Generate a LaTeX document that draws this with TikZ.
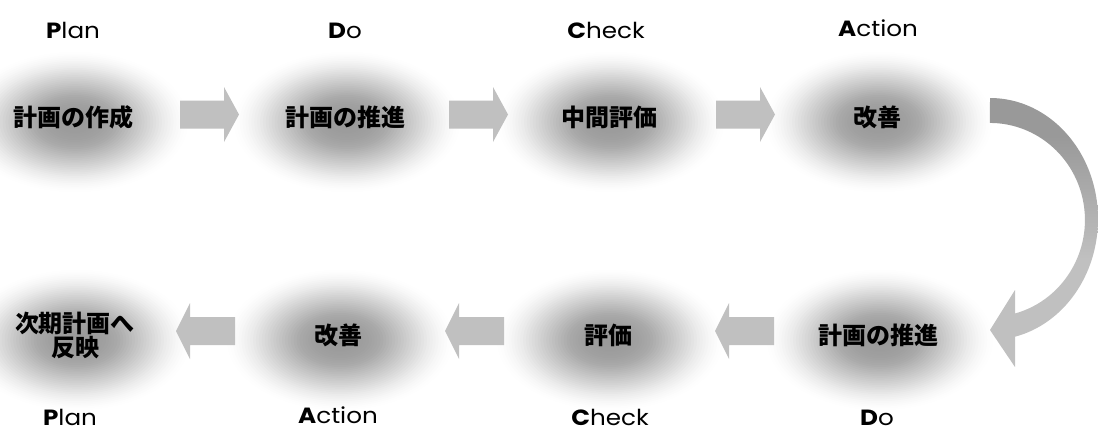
\documentclass[tikz,border=0pt]{standalone}
\usepackage{fontspec}
\setmainfont{Noto Sans CJK JP}
\newfontfamily\latfont[FakeStretch=1.12]{Poppins}
\definecolor{arrowgray}{HTML}{C0C0C0}
\definecolor{darkarrow}{HTML}{999999}
\pgfdeclareverticalshading{curvshade}{100bp}{color(0bp)=(arrowgray); color(45bp)=(arrowgray); color(68bp)=(darkarrow); color(100bp)=(darkarrow)}
\newcommand\myblob[1]{%
  \foreach \i in {1,...,40} {%
    \pgfmathsetmacro\rr{\i/40}%
    \pgfmathsetmacro\op{0.42*4*\rr*(1-\rr*\rr)/40+0.0004}%
    \fill[black, fill opacity=\op] ([shift={(2,5)}]#1) ellipse[x radius={116*\rr}, y radius={72*\rr}];
  }%
}
\tikzset{
  jp/.style={font=\fontsize{24}{24}\selectfont\bfseries, align=center, inner sep=0pt},
  lab/.style={font=\latfont\fontsize{22}{22}\selectfont, inner sep=0pt, anchor=base},
  blockarrow/.style={fill=arrowgray, draw=none}
}
\begin{document}
\begin{tikzpicture}[x=1pt,y=-1pt]
\useasboundingbox (0,0) rectangle (1098,432);
\fill[white] (0,0) rectangle (1098,432);
% positions
\coordinate (t1) at (73,117);
\coordinate (t2) at (345,117);
\coordinate (t3) at (609,117);
\coordinate (t4) at (877,117);
\coordinate (b1) at (75,335);
\coordinate (b2) at (338,335);
\coordinate (b3) at (608,335);
\coordinate (b4) at (878,335);
% blobs
\foreach \c in {t1,t2,t3,t4,b1,b2,b3,b4} {\myblob{\c}}
% text nodes
\node[jp] (n1) at (t1) {計画の作成};
\node[jp] (n2) at (t2) {計画の推進};
\node[jp] (n3) at (t3) {中間評価};
\node[jp] (n4) at (t4) {改善};
\node[jp] (m1) at (b4) {計画の推進};
\node[jp] (m2) at (b3) {評価};
\node[jp] (m3) at (b2) {改善};
\node[jp] (m4) at (b1) {次期計画へ\\反映};
% labels
\node[lab] (l1) at (73,38) {{\bfseries P}lan};
\node[lab] (l2) at (345,38) {{\bfseries D}o};
\node[lab] (l3) at (606,38) {{\bfseries C}heck};
\node[lab] (l4) at (878,36) {{\bfseries A}ction};
\node[lab] (k1) at (70,425) {{\bfseries P}lan};
\node[lab] (k2) at (338,423) {{\bfseries A}ction};
\node[lab] (k3) at (610,425) {{\bfseries C}heck};
\node[lab] (k4) at (877,425) {{\bfseries D}o};
% right block arrows
\foreach \x in {180,449,716} {
  \fill[blockarrow] (\x,100.5) -- ++(44,0) -- ++(0,-13.5) -- ++(15,27.5) -- ++(-15,27.5) -- ++(0,-13.5) -- ++(-44,0) -- cycle;
}
% left block arrows
\foreach \x in {176,445,715} {
  \fill[blockarrow] (\x,331) -- ++(14,-28) -- ++(0,14) -- ++(45,0) -- ++(0,28) -- ++(-45,0) -- ++(0,14) -- cycle;
}
% curved arrow
\shade[shading=curvshade] (990,98) arc[start angle=-90, end angle=76.6, x radius=108, y radius=121]
  -- (1015,367) -- (990,330) -- (1015,290) -- (1015,313.5)
  arc[start angle=74.7, end angle=-90, x radius=95, y radius=97] -- cycle;
\end{tikzpicture}
\end{document}
